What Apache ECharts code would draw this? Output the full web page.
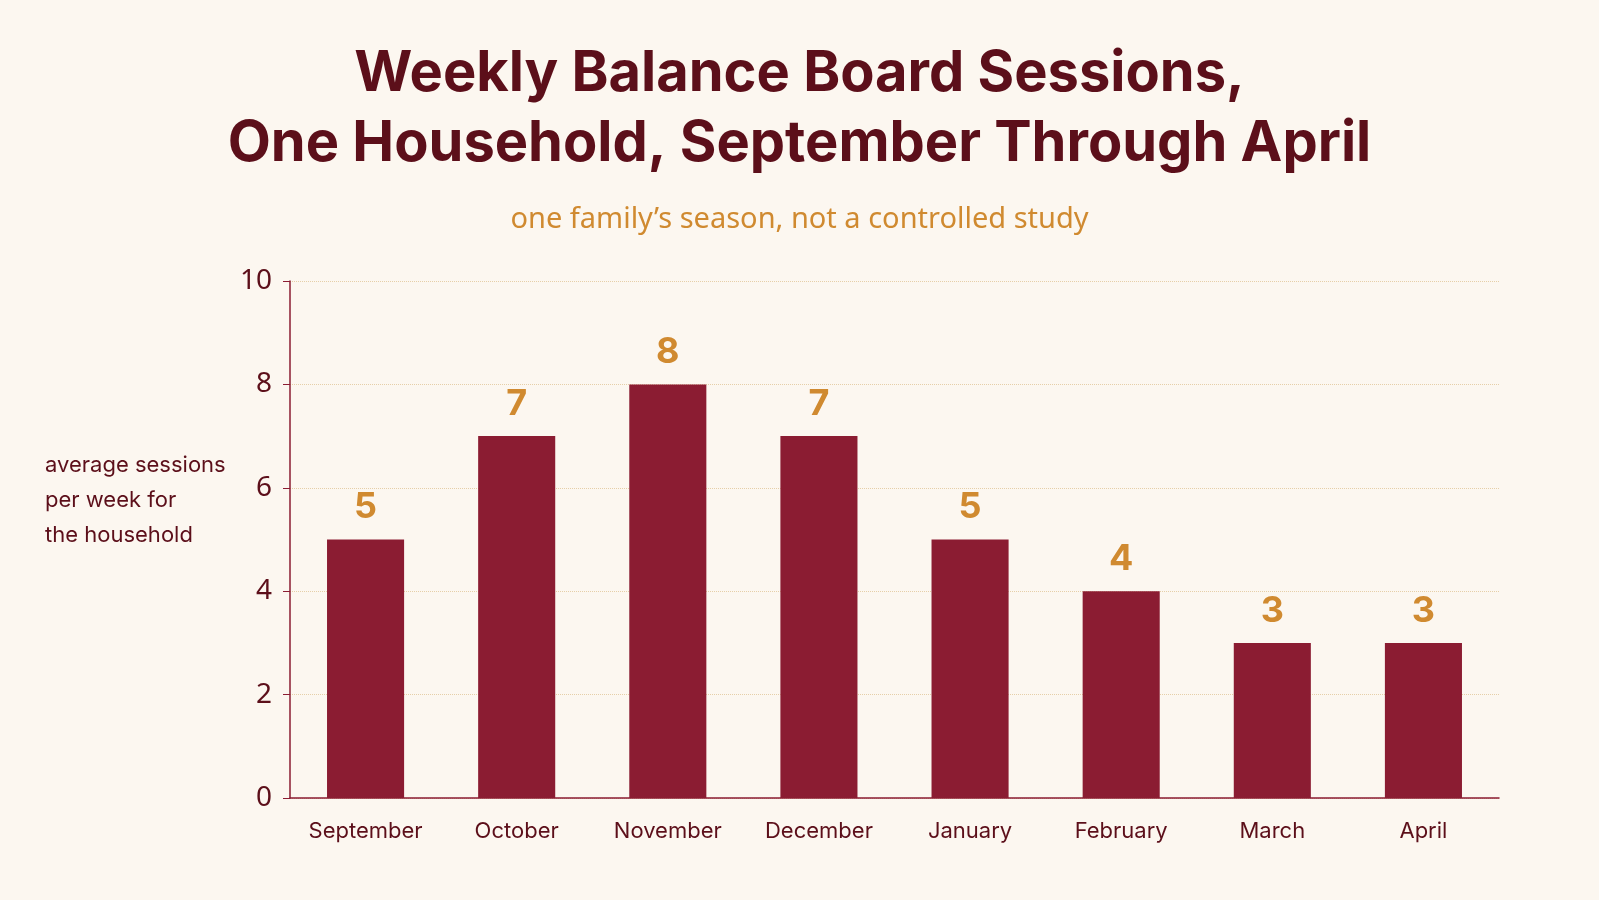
<!DOCTYPE html>
<html>
<head>
<meta charset="utf-8">
<script src="https://cdn.jsdelivr.net/npm/echarts@6/dist/echarts.min.js"></script>
<style>html,body{margin:0;padding:0;background:#fcf7f0;}#container{width:1599px;height:900px;}</style>
</head>
<body>
<div id="container"></div>
<script>
var months = ['September', 'October', 'November', 'December', 'January', 'February', 'March', 'April'];
var sessions = [5, 7, 8, 7, 5, 4, 3, 3];

var myChart = echarts.init(document.getElementById('container'), null, { renderer: 'canvas' });
var option = {
  backgroundColor: '#fcf7f0',
  title: [
    {
      text: 'Weekly Balance Board Sessions,\nOne Household, September Through April',
      left: 'center', top: 34,
      textStyle: { fontFamily: 'Inter', fontSize: 56, fontWeight: 'bold', color: '#5c0f1a', lineHeight: 70 }
    },
    {
      text: 'one family\u2019s season, not a controlled study',
      left: 'center', top: 200,
      textStyle: { fontFamily: 'Noto Sans', fontSize: 29, fontWeight: 'normal', color: '#d08a30' }
    },
    {
      text: 'average sessions\nper week for\nthe household',
      left: 40, top: 443,
      textStyle: { fontFamily: 'Inter', fontSize: 22, fontWeight: 'normal', color: '#5c0f1a', lineHeight: 35 }
    }
  ],
  grid: { left: 290, right: 100, top: 281, bottom: 102 },
  xAxis: {
    type: 'category',
    data: months,
    axisLine: { lineStyle: { color: '#8b1c32', width: 1.5 } },
    axisTick: { show: false },
    axisLabel: { color: '#5c0f1a', fontFamily: 'Inter', fontSize: 22, margin: 22 }
  },
  yAxis: {
    type: 'value', min: 0, max: 10, interval: 2,
    axisLine: { show: true, lineStyle: { color: '#8b1c32', width: 1.5 } },
    axisTick: { show: true, length: 7, lineStyle: { color: '#8b1c32' } },
    axisLabel: { color: '#5c0f1a', fontFamily: 'Noto Sans', fontSize: 28, margin: 18 },
    splitLine: { lineStyle: { color: '#e6cfa8', type: 'dotted' } }
  },
  series: [{
    type: 'bar',
    data: sessions,
    barWidth: '51%',
    itemStyle: { color: '#8b1c32' },
    label: {
      show: true, position: 'top', distance: 14,
      color: '#d08a30', fontFamily: 'Inter', fontSize: 36, fontWeight: 'bold'
    }
  }]
};
myChart.setOption(option);
window.addEventListener('resize', myChart.resize);
</script>
</body>
</html>
